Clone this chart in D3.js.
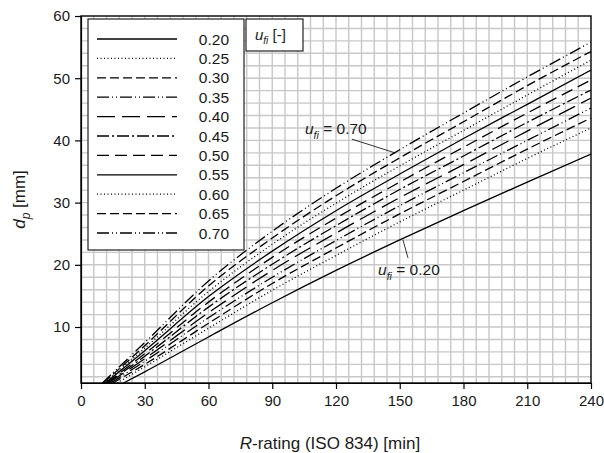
<!DOCTYPE html>
<html>
 <head>
   <title>dp vs R-rating</title>
   <script type="text/javascript" src="https://d3js.org/d3.v7.min.js"></script>
   <style type="text/css">
		body { margin: 0; background: #fff; }
		svg { width: 604px; height: 453px; }
		text {
			font-family: 'Liberation Sans', Arial, sans-serif;
			fill: #1a1a1a;
		}
		.grid line { stroke: #c8c8c8; stroke-width: 1.4; }
		.curve { fill: none; stroke: #000; stroke-width: 1.3; }
		.axis path, .axis line { stroke: #000; stroke-width: 1.2; }
		.axis text { font-size: 15px; }
   </style>
 </head>
 <body>
   <script type="text/javascript">

	var rating = [30, 60, 90, 120, 150, 180, 210, 240];
	var uLabels = ['0.20', '0.25', '0.30', '0.35', '0.40', '0.45', '0.50', '0.55', '0.60', '0.65', '0.70'];
	// rating where each curve leaves the bottom of the plot (dp ~ 1 mm)
	var startRating = [20, 17, 15, 14, 13, 12.5, 12, 11.5, 11, 10.5, 10];

	// dp [mm] at the ratings above
	var dp020 = [2.8, 8.4, 13.9, 19.1, 24.0, 28.7, 33.3, 37.8];
	var dp025 = [3.6, 9.8, 15.9, 21.5, 26.9, 32.0, 37.1, 42.0];
	var dp030 = [4.0, 10.6, 17.0, 22.7, 28.2, 33.4, 38.6, 43.6];
	var dp035 = [4.5, 11.5, 18.0, 23.9, 29.5, 34.8, 40.0, 45.2];
	var dp040 = [4.9, 12.3, 19.1, 25.1, 30.8, 36.1, 41.5, 46.8];
	var dp045 = [5.3, 13.2, 20.1, 26.3, 32.1, 37.5, 42.9, 48.1];
	var dp050 = [5.7, 14.0, 21.2, 27.5, 33.3, 38.9, 44.4, 49.7];
	var dp055 = [6.2, 14.9, 22.2, 28.7, 34.6, 40.3, 45.8, 51.3];
	var dp060 = [6.6, 15.7, 23.3, 29.9, 35.9, 41.6, 47.3, 52.9];
	var dp065 = [7.0, 16.6, 24.3, 31.1, 37.2, 43.0, 48.8, 54.3];
	var dp070 = [7.5, 17.4, 25.4, 32.3, 38.5, 44.4, 50.2, 55.8];

	var xTicks = [0, 30, 60, 90, 120, 150, 180, 210, 240];
	var yTicks = [10, 20, 30, 40, 50, 60];

	var series = [dp020, dp025, dp030, dp035, dp040, dp045, dp050, dp055, dp060, dp065, dp070];

	// line styles, same order as the legend
	var dashes = ['none', '1,2.5', '9,4', '12,3,1,3,1,3', '18,7', '12,3,2,3', '12,6', 'none', '1,2.5', '9,4', '12,3,1,3,1,3'];

	var pLeft = 81, pRight = 591, pTop = 16, pBottom = 383;

	var x = d3.scaleLinear().domain([0, 240]).range([pLeft, pRight]);
	var y = d3.scaleLinear().domain([1, 60]).range([pBottom, pTop]);

	var svg = d3.select('body').append('svg');

	// grid
	var grid = svg.append('g').attr('class', 'grid');
	grid.selectAll('line.v').data(d3.range(6, 240, 6))
		.enter().append('line')
		.attr('class', 'v')
		.attr('x1', function(d) { return x(d) })
		.attr('x2', function(d) { return x(d) })
		.attr('y1', pTop)
		.attr('y2', pBottom);
	grid.selectAll('line.h').data(d3.range(2, 60, 2))
		.enter().append('line')
		.attr('class', 'h')
		.attr('x1', pLeft)
		.attr('x2', pRight)
		.attr('y1', function(d) { return y(d) })
		.attr('y2', function(d) { return y(d) });

	svg.append('clipPath').attr('id', 'plot')
		.append('rect')
		.attr('x', pLeft).attr('y', pTop)
		.attr('width', pRight - pLeft).attr('height', pBottom - pTop);

	var line = d3.line()
		.x(function(d) { return x(d[0]) })
		.y(function(d) { return y(d[1]) })
		.curve(d3.curveMonotoneX);

	svg.append('g').attr('clip-path', 'url(#plot)')
		.selectAll('path').data(series)
		.enter().append('path')
		.attr('class', 'curve')
		.attr('stroke-dasharray', function(d, i) { return dashes[i] })
		.attr('d', function(d, i) {
			var pts = [[startRating[i], 1]];
			rating.forEach(function(r, j) { pts.push([r, d[j]]) });
			return line(pts);
		});

	// axes
	svg.append('g').attr('class', 'axis')
		.attr('transform', 'translate(0,' + pBottom + ')')
		.call(d3.axisBottom(x).tickValues(xTicks).tickSize(6).tickSizeOuter(0).tickPadding(6));
	svg.append('g').attr('class', 'axis')
		.attr('transform', 'translate(' + pLeft + ',0)')
		.call(d3.axisLeft(y).tickValues(yTicks).tickSize(6).tickSizeOuter(0).tickPadding(5));

	// frame
	svg.append('rect')
		.attr('x', pLeft).attr('y', pTop)
		.attr('width', pRight - pLeft).attr('height', pBottom - pTop)
		.attr('fill', 'none').attr('stroke', '#000').attr('stroke-width', 1.4);

	// axis titles
	var xt = svg.append('text')
		.attr('x', 330).attr('y', 449)
		.attr('text-anchor', 'middle')
		.style('font-size', '17px');
	xt.append('tspan').attr('font-style', 'italic').text('R');
	xt.append('tspan').text('-rating (ISO 834) [min]');

	var yt = svg.append('text')
		.attr('transform', 'translate(25,' + ((pTop + pBottom) / 2) + ') rotate(-90)')
		.attr('text-anchor', 'middle')
		.style('font-size', '17px');
	yt.append('tspan').attr('font-style', 'italic').text('d');
	yt.append('tspan').attr('font-style', 'italic').attr('dy', 5).style('font-size', '12px').text('p');
	yt.append('tspan').attr('dy', -5).text(' [mm]');

	// legend
	var lg = svg.append('g');
	lg.append('rect')
		.attr('x', 88).attr('y', 19).attr('width', 156).attr('height', 231)
		.attr('fill', '#fff').attr('stroke', '#222').attr('stroke-width', 1.2);
	var item = lg.selectAll('g.item').data(uLabels)
		.enter().append('g')
		.attr('class', 'item')
		.attr('transform', function(d, i) { return 'translate(0,' + (39 + i * 19.4) + ')' });
	item.append('line')
		.attr('class', 'curve')
		.attr('x1', 97).attr('x2', 177).attr('y1', 0).attr('y2', 0)
		.attr('stroke-dasharray', function(d, i) { return dashes[i] });
	item.append('text')
		.attr('x', 229).attr('y', 5.5)
		.attr('text-anchor', 'end')
		.style('font-size', '15.5px')
		.text(function(d) { return d });

	lg.append('rect')
		.attr('x', 246).attr('y', 19).attr('width', 57).attr('height', 32)
		.attr('fill', '#fff').attr('stroke', '#222').attr('stroke-width', 1.2);
	var ut = lg.append('text').attr('x', 255).attr('y', 40).style('font-size', '15px');
	ut.append('tspan').attr('font-style', 'italic').text('u');
	ut.append('tspan').attr('font-style', 'italic').attr('dy', 4).style('font-size', '10px').text('fi');
	ut.append('tspan').attr('dy', -4).text(' [-]');

	// annotations
	function note(tx, ty, x1, y1, x2, y2, label) {
		svg.append('line')
			.attr('x1', x(x1)).attr('y1', y(y1))
			.attr('x2', x(x2)).attr('y2', y(y2))
			.attr('stroke', '#000').attr('stroke-width', 0.8);
		var t = svg.append('text').attr('x', x(tx)).attr('y', y(ty)).style('font-size', '15.5px');
		t.append('tspan').attr('font-style', 'italic').text('u');
		t.append('tspan').attr('font-style', 'italic').attr('dy', 5).style('font-size', '10.5px').text('fi');
		t.append('tspan').attr('dy', -5).text(' = ' + label);
	}
	note(105.4, 41.0, 127.5, 40.2, 147.8, 38.0, '0.70');
	note(139.8, 18.4, 153.9, 21.1, 151.5, 24.0, '0.20');

    </script>
 </body>
</html>
